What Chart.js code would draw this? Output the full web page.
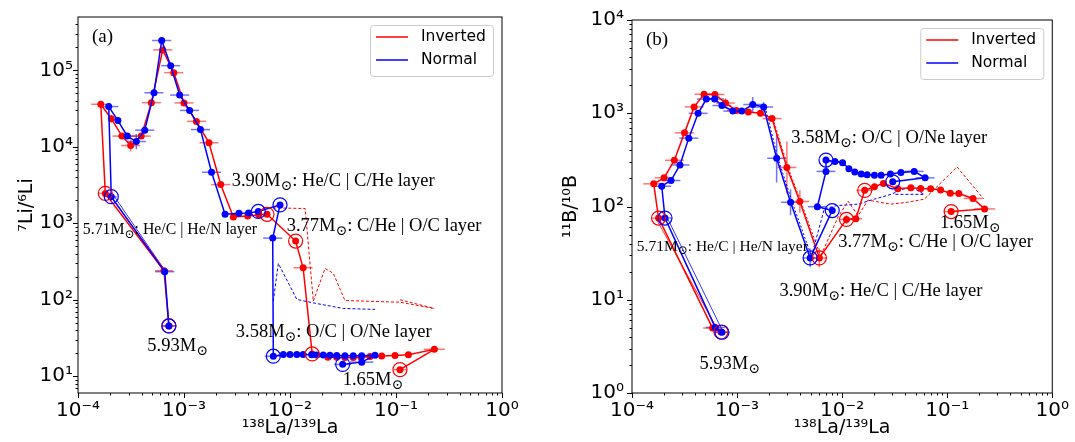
<!DOCTYPE html>
<html>
<head>
<meta charset="utf-8">
<script src="https://cdn.jsdelivr.net/npm/chart.js@4.4.1/dist/chart.umd.min.js"></script>
<style>
  html, body { margin: 0; padding: 0; background: #fff; }
  #wrap { position: relative; width: 1075px; height: 442px; }
  canvas { position: absolute; top: 0; }
  #panelA { left: 0; }
  #panelB { left: 537px; }
</style>
</head>
<body>
<div id="wrap">
  <canvas id="panelA" width="537" height="442"></canvas>
  <canvas id="panelB" width="538" height="442"></canvas>
</div>
<script>
// ---------- panel (a): 7Li/6Li vs 138La/139La ----------
const liInvX = [7.2e-4, 6.48e-4, 1.81e-4, 1.64e-4, 2.06e-4, 2.60e-4, 3.14e-4, 3.95e-4, 4.92e-4, 6.30e-4, 8.0e-4, 1.0e-3, 1.31e-3, 1.72e-3, 2.22e-3, 2.92e-3, 3.99e-3, 5.07e-3, 6.07e-3, 1.13e-2, 1.33e-2, 1.62e-2, 2.28e-2, 2.76e-2, 3.30e-2, 3.95e-2, 4.68e-2, 5.69e-2, 7.33e-2, 9.79e-2, 0.131, 0.230, 0.109]
const liInvY = [45.5, 240, 2460, 36000, 23300, 13800, 10400, 13800, 37800, 185000, 93300, 37500, 21500, 11300, 3210, 1210, 1250, 1290, 1310, 586, 262, 19.6, 17.7, 17.7, 17.6, 17.6, 17.7, 18.1, 18.4, 18.7, 19.1, 22.5, 12.2]
const liInvXErr = [0.07, 0.085, 0.06, 0.09, 0, 0.09, 0.09, 0.09, 0.09, 0.09, 0.09, 0.09, 0.09, 0.09, 0.09, 0, 0, 0, 0, 0, 0.09, 0, 0, 0, 0, 0, 0, 0, 0, 0, 0, 0.1, 0.06]
const liInvYErr = [0, 0, 0, 0, 0.05, 0, 0.08, 0, 0, 0, 0, 0, 0, 0, 0, 0, 0, 0, 0, 0, 0, 0, 0, 0, 0, 0, 0, 0, 0, 0, 0, 0, 0]
const liInvCircled = [0, 2, 18, 19, 21, 32]

const liNorX = [7.2e-4, 6.58e-4, 2.06e-4, 1.95e-4, 2.38e-4, 2.92e-4, 3.55e-4, 4.26e-4, 5.21e-4, 6.16e-4, 7.49e-4, 9.10e-4, 1.13e-3, 1.43e-3, 1.82e-3, 2.44e-3, 3.30e-3, 4.06e-3, 5.02e-3, 8.05e-3, 6.87e-3, 6.96e-3, 8.65e-3, 1.0e-2, 1.16e-2, 1.33e-2, 1.60e-2, 1.79e-2, 2.06e-2, 2.38e-2, 2.76e-2, 3.30e-2, 3.95e-2, 4.75e-2, 6.34e-2, 4.75e-2, 3.14e-2]
const liNorY = [45.5, 233, 2230, 33600, 22000, 13800, 11700, 16500, 50900, 246000, 115000, 47500, 29900, 16800, 4650, 1310, 1350, 1365, 1430, 1740, 640, 18.3, 19.2, 19.3, 19.3, 19.2, 19.1, 19.0, 18.9, 18.8, 18.7, 18.6, 18.6, 18.6, 18.8, 15.3, 14.3]
const liNorXErr = [0.06, 0.09, 0.05, 0.09, 0, 0.09, 0.09, 0.09, 0.09, 0.09, 0.09, 0.09, 0.09, 0.09, 0.09, 0, 0, 0, 0, 0, 0.09, 0.08, 0, 0, 0, 0, 0, 0, 0, 0, 0, 0, 0, 0, 0, 0.11, 0.08]
const liNorYErr = [0, 0, 0, 0, 0, 0, 0.1, 0, 0, 0.03, 0, 0, 0, 0, 0, 0, 0, 0, 0, 0, 0, 0, 0, 0, 0, 0, 0, 0, 0, 0, 0, 0, 0, 0, 0, 0, 0]
const liNorCircled = [0, 2, 18, 19, 21, 36]

const liInvDashX = [5.6e-3, 1.39e-2, 1.66e-2, 2.14e-2, 2.56e-2, 3.30e-2, 0.109, 0.230]
const liInvDashY = [1600, 1560, 95.7, 257, 222, 97.8, 92.9, 76.9]
const liInvDash2X = [0.109, 0.230]
const liInvDash2Y = [100, 77]
const liNorDashX = [6.96e-3, 7.76e-3, 1.16e-2, 1.66e-2, 3.18e-2, 6.34e-2]
const liNorDashY = [95.7, 298, 101, 91, 77, 74.8]
const liInvThinX = [1.92e-4, 6.6e-4]
const liInvThinY = [2500, 245]
const liNorThinX = [2.2e-4, 6.75e-4]
const liNorThinY = [2250, 230]

// ---------- panel (b): 11B/10B vs 138La/139La ----------
const bInvX = [7.02e-4, 5.85e-4, 1.79e-4, 1.61e-4, 2.02e-4, 2.53e-4, 3.16e-4, 3.90e-4, 4.85e-4, 6.16e-4, 7.76e-4, 9.85e-4, 1.28e-3, 1.67e-3, 2.15e-3, 2.98e-3, 3.96e-3, 6.07e-3, 1.10e-2, 1.35e-2, 1.64e-2, 2.03e-2, 2.47e-2, 3.38e-2, 4.51e-2, 5.60e-2, 6.95e-2, 8.65e-2, 0.107, 0.129, 0.176, 0.227, 0.109]
const bInvY = [4.51, 4.97, 75.2, 175, 203, 313, 616, 1170, 1600, 1590, 1290, 1070, 1030, 999, 877, 262, 113, 28.1, 72.7, 73.9, 149, 163, 177, 155, 159, 156, 155, 150, 139, 138, 122, 94.2, 88.2]
const bInvXErr = [0.07, 0.09, 0.06, 0.1, 0.09, 0.09, 0.09, 0.09, 0.09, 0.09, 0.09, 0.09, 0, 0, 0.09, 0.09, 0.09, 0.07, 0.07, 0.06, 0.08, 0, 0, 0, 0, 0, 0, 0, 0, 0, 0.09, 0.1, 0.07]
const bInvYErr = [0, 0, 0, 0, 0, 0, 0, 0, 0, 0, 0.05, 0, 0, 0, 0, 0.28, 0.12, 0.1, 0.05, 0, 0, 0, 0, 0, 0, 0, 0, 0, 0, 0, 0, 0, 0]
const bInvCircled = [0, 2, 17, 18, 20, 32]

const bNorX = [7.18e-4, 6.20e-4, 2.06e-4, 1.92e-4, 2.35e-4, 2.86e-4, 3.47e-4, 4.26e-4, 5.10e-4, 6.11e-4, 7.18e-4, 9.11e-4, 1.11e-3, 1.41e-3, 1.79e-3, 2.38e-3, 3.23e-3, 4.96e-3, 8.05e-3, 5.81e-3, 7.02e-3, 7.02e-3, 8.53e-3, 1.01e-2, 1.16e-2, 1.32e-2, 1.52e-2, 1.73e-2, 2.03e-2, 2.35e-2, 2.88e-2, 3.63e-2, 4.85e-2, 6.16e-2, 3.03e-2]
const bNorY = [4.48, 5.05, 75.2, 165, 190, 279, 541, 998, 1420, 1420, 1210, 1056, 1056, 1240, 1170, 329, 111, 28.1, 90.4, 99.5, 238, 315, 303, 295, 254, 234, 223, 219, 216, 216, 223, 232, 238, 203, 184]
const bNorXErr = [0.07, 0.09, 0.06, 0.09, 0.09, 0.09, 0.09, 0.09, 0.09, 0.09, 0.09, 0.09, 0.09, 0.09, 0.09, 0.09, 0.09, 0.07, 0, 0.09, 0.09, 0, 0.09, 0, 0, 0, 0, 0, 0, 0, 0, 0, 0.09, 0.09, 0]
const bNorYErr = [0, 0, 0, 0, 0, 0, 0, 0, 0, 0, 0, 0, 0, 0.08, 0.05, 0.26, 0.14, 0.1, 0, 0, 0, 0, 0, 0, 0, 0, 0, 0, 0, 0, 0, 0, 0, 0, 0]
const bNorCircled = [0, 2, 17, 18, 21, 34]

const bInvDashX = [6.3e-3, 9.17e-3, 1.14e-2, 1.42e-2, 1.76e-2, 2.90e-2, 4.19e-2, 6.07e-2, 0.124, 0.223]
const bInvDashY = [30, 77.6, 114, 79.5, 117, 106, 111, 120, 266, 120]
const bNorDashX = [5.1e-3, 6.76e-3, 8.77e-3, 1.42e-2, 2.03e-2, 2.92e-2, 3.76e-2, 4.68e-2, 6.03e-2, 3.14e-2]
const bNorDashY = [29, 94.2, 102, 106, 120, 135, 153, 160, 135, 135]
const bInvThinX = [1.72e-4, 6.8e-4, 2.2e-3, 3.05e-3, 4.05e-3, 6.3e-3]
const bInvThinY = [72, 4.4, 877, 262, 113, 28.5]
const bNorThinX = [2.15e-4, 7.3e-4, 1.85e-3, 2.45e-3, 3.35e-3, 5.15e-3]
const bNorThinY = [77, 4.6, 1170, 329, 111, 28.5]

// mass-coordinate notes (anchored at left/middle of the text)
const liNotes = [
  { mass: "3.90", tail: ": He/C | C/He layer", x: 2.82e-3, y: 3590, size: 18.5 },
  { mass: "3.77", tail: ": C/He | O/C layer", x: 9.31e-3, y: 914, size: 18.5 },
  { mass: "5.71", tail: ": He/C | He/N layer", x: 1.11e-4, y: 813, size: 15.8 },
  { mass: "3.58", tail: ": O/C | O/Ne layer", x: 3.08e-3, y: 38.1, size: 18.5 },
  { mass: "5.93", tail: "", x: 4.51e-4, y: 24.6, size: 18.5 },
  { mass: "1.65", tail: "", x: 3.14e-2, y: 8.88, size: 18.5 }
]
const bNotes = [
  { mass: "3.58", tail: ": O/C | O/Ne layer", x: 3.28e-3, y: 541, size: 18.5 },
  { mass: "3.77", tail: ": C/He | O/C layer", x: 9.16e-3, y: 41.1, size: 18.5 },
  { mass: "5.71", tail: ": He/C | He/N layer", x: 1.11e-4, y: 37.3, size: 15.5 },
  { mass: "3.90", tail: ": He/C | C/He layer", x: 2.53e-3, y: 12.3, size: 18.5 },
  { mass: "5.93", tail: "", x: 4.38e-4, y: 2.05, size: 18.5 },
  { mass: "1.65", tail: "", x: 8.53e-2, y: 65.5, size: 18.5 }
]

const RED = "#ff0000"
const BLUE = "#0000ff"
const SUP = { "-": "\u207b", "0": "\u2070", "1": "\u00b9", "2": "\u00b2", "3": "\u00b3", "4": "\u2074", "5": "\u2075", "6": "\u2076", "7": "\u2077", "8": "\u2078", "9": "\u2079" }

const pts = (xs, ys) => xs.map((x, i) => ({ x, y: ys[i] }))

function decadeLabel(v) {
  const e = Math.log10(v)
  if (Math.abs(e - Math.round(e)) > 1e-6) return ""
  return "10" + String(Math.round(e)).split("").map(c => SUP[c]).join("")
}

function track(label, color, xs, ys, xErr, yErr, order) {
  return {
    label, data: pts(xs, ys), showLine: true, order,
    borderColor: color, backgroundColor: color, borderWidth: 1.5,
    pointRadius: 3.5, pointHoverRadius: 3.5, pointBorderWidth: 0,
    xErr, yErr, errColor: color === RED ? "rgba(255,0,0,0.55)" : "rgba(0,0,255,0.55)",
    inLegend: true
  }
}

function circles(color, xs, ys, idx) {
  return {
    data: idx.map(i => ({ x: xs[i], y: ys[i] })), showLine: false, order: 0,
    pointRadius: 7, pointHoverRadius: 7, pointBorderColor: color,
    pointBackgroundColor: "rgba(0,0,0,0)", pointBorderWidth: 1.2
  }
}

function dashed(color, xs, ys, pattern) {
  return {
    data: pts(xs, ys), showLine: true, order: 3, borderColor: color,
    borderWidth: 1, borderDash: pattern, pointRadius: 0
  }
}

function thin(color, xs, ys) {
  return {
    data: pts(xs, ys), showLine: true, order: 3, borderColor: color,
    borderWidth: 0.8, pointRadius: 0
  }
}

const errorBars = {
  id: "errorBars",
  beforeDatasetsDraw(chart) {
    const { ctx, scales: { x, y } } = chart
    chart.data.datasets.forEach(ds => {
      if (!ds.xErr) return
      ctx.save()
      ctx.strokeStyle = ds.errColor
      ctx.lineWidth = 1.5
      ds.data.forEach((p, i) => {
        const px = x.getPixelForValue(p.x)
        const py = y.getPixelForValue(p.y)
        const ex = ds.xErr[i], ey = ds.yErr[i]
        ctx.beginPath()
        if (ex) {
          ctx.moveTo(x.getPixelForValue(p.x / Math.pow(10, ex)), py)
          ctx.lineTo(x.getPixelForValue(p.x * Math.pow(10, ex)), py)
        }
        if (ey) {
          ctx.moveTo(px, y.getPixelForValue(p.y / Math.pow(10, ey)))
          ctx.lineTo(px, y.getPixelForValue(p.y * Math.pow(10, ey)))
        }
        ctx.stroke()
      })
      ctx.restore()
    })
  }
}

function logTicks(scale) {
  const out = []
  const lo = Math.floor(Math.log10(scale.min)), hi = Math.ceil(Math.log10(scale.max))
  for (let n = lo; n <= hi; n++) {
    for (let d = 1; d <= 9; d++) {
      const v = d * Math.pow(10, n)
      if (v >= scale.min * 0.9999 && v <= scale.max * 1.0001) out.push({ v, major: d === 1 })
    }
  }
  return out
}

const frameTicks = {
  id: "frameTicks",
  afterDraw(chart) {
    const { ctx, chartArea: a, scales: { x, y } } = chart
    ctx.save()
    ctx.strokeStyle = "#000"
    ctx.lineWidth = 1
    ctx.strokeRect(a.left, a.top, a.right - a.left, a.bottom - a.top)
    ctx.beginPath()
    logTicks(x).forEach(t => {
      const px = Math.round(x.getPixelForValue(t.v)) + 0.5
      ctx.moveTo(px, a.bottom)
      ctx.lineTo(px, a.bottom + (t.major ? 5 : 2.5))
    })
    logTicks(y).forEach(t => {
      const py = Math.round(y.getPixelForValue(t.v)) + 0.5
      ctx.moveTo(a.left, py)
      ctx.lineTo(a.left - (t.major ? 5 : 2.5), py)
    })
    ctx.stroke()
    ctx.restore()
  }
}

const massNotes = {
  id: "massNotes",
  afterDatasetsDraw(chart, args, opts) {
    const { ctx, chartArea: a, scales: { x, y } } = chart
    ctx.save()
    ctx.fillStyle = "#000"
    ctx.textBaseline = "middle"
    ctx.font = '19px "Liberation Serif"'
    ctx.fillText(opts.panel, a.left + 14, a.top + 20)
    opts.items.forEach(n => {
      let px = x.getPixelForValue(n.x)
      const py = y.getPixelForValue(n.y)
      ctx.font = n.size + 'px "Liberation Serif"'
      const head = n.mass + "M"
      ctx.fillText(head, px, py)
      px += ctx.measureText(head).width
      ctx.font = Math.round(n.size * 0.75) + 'px "DejaVu Serif"'
      ctx.fillText("\u2299", px, py + n.size * 0.28)
      px += ctx.measureText("\u2299").width
      ctx.font = n.size + 'px "Liberation Serif"'
      ctx.fillText(n.tail, px, py)
    })
    ctx.restore()
  }
}

const boxLegend = {
  id: "boxLegend",
  afterDraw(chart) {
    const { ctx, chartArea: a } = chart
    const items = chart.data.datasets.filter(d => d.inLegend)
      .sort((p, q) => (p.label === "Inverted" ? -1 : 1))
    const w = 123, h = 51
    const left = a.right - 9 - w, top = a.top + 8
    ctx.save()
    ctx.beginPath()
    ctx.roundRect(left + 0.5, top + 0.5, w, h, 3)
    ctx.fillStyle = "rgba(255,255,255,0.8)"
    ctx.fill()
    ctx.strokeStyle = "#cccccc"
    ctx.lineWidth = 1
    ctx.stroke()
    ctx.font = '15.5px "DejaVu Sans"'
    ctx.textBaseline = "middle"
    items.forEach((d, i) => {
      const cy = top + 12 + i * 23
      ctx.strokeStyle = d.borderColor
      ctx.lineWidth = 1.5
      ctx.beginPath()
      ctx.moveTo(left + 6, cy)
      ctx.lineTo(left + 38, cy)
      ctx.stroke()
      ctx.fillStyle = "#000"
      ctx.fillText(d.label, left + 51, cy)
    })
    ctx.restore()
  }
}

function makePanel(id, cfg) {
  return new Chart(document.getElementById(id), {
    type: "scatter",
    data: { datasets: cfg.datasets },
    options: {
      responsive: false,
      animation: false,
      layout: { padding: cfg.padding },
      plugins: {
        legend: { display: false },
        tooltip: { enabled: false },
        massNotes: { items: cfg.notes, panel: cfg.panel }
      },
      scales: {
        x: {
          type: "logarithmic", min: 1e-4, max: 1,
          border: { display: false },
          grid: { display: false, drawTicks: false },
          ticks: {
            autoSkip: false, maxRotation: 0, padding: 6, color: "#000",
            font: { family: "DejaVu Sans", size: 20 },
            callback: v => decadeLabel(v)
          },
          title: {
            display: true, text: "\u00b9\u00b3\u2078La/\u00b9\u00b3\u2079La", color: "#000",
            font: { family: "DejaVu Sans", size: 19 }, padding: { top: 0, bottom: 3 }
          },
          afterFit: s => { s.height = 49 }
        },
        y: {
          type: "logarithmic", min: cfg.yMin, max: cfg.yMax,
          border: { display: false },
          grid: { display: false, drawTicks: false },
          ticks: {
            autoSkip: false, padding: cfg.yPad, color: "#000",
            font: { family: "DejaVu Sans", size: 20 },
            callback: v => decadeLabel(v)
          },
          title: {
            display: true, text: cfg.yTitle, color: "#000",
            font: { family: "DejaVu Sans", size: 19 }, padding: { top: cfg.yTitlePad, bottom: 0 }
          },
          afterFit: s => { s.width = cfg.yWidth }
        }
      }
    },
    plugins: [errorBars, frameTicks, massNotes, boxLegend]
  })
}

makePanel("panelA", {
  panel: "(a)",
  notes: liNotes,
  yMin: 6.04, yMax: 4.98e5,
  yTitle: "\u2077Li/\u2076Li", yTitlePad: 16, yWidth: 78, yPad: 5,
  padding: { left: 0, right: 35, top: 12, bottom: 0 },
  datasets: [
    track("Normal", BLUE, liNorX, liNorY, liNorXErr, liNorYErr, 1),
    track("Inverted", RED, liInvX, liInvY, liInvXErr, liInvYErr, 2),
    circles(BLUE, liNorX, liNorY, liNorCircled),
    circles(RED, liInvX, liInvY, liInvCircled),
    dashed(RED, liInvDashX, liInvDashY, [3, 2]),
    dashed(RED, liInvDash2X, liInvDash2Y, [3, 2]),
    dashed(BLUE, liNorDashX, liNorDashY, [3, 2]),
    thin(RED, liInvThinX, liInvThinY),
    thin(BLUE, liNorThinX, liNorThinY)
  ]
})

makePanel("panelB", {
  panel: "(b)",
  notes: bNotes,
  yMin: 1, yMax: 1e4,
  yTitle: "\u00b9\u00b9B/\u00b9\u2070B", yTitlePad: 23, yWidth: 95, yPad: 8,
  padding: { left: 0, right: 20, top: 12, bottom: 0 },
  datasets: [
    track("Normal", BLUE, bNorX, bNorY, bNorXErr, bNorYErr, 1),
    track("Inverted", RED, bInvX, bInvY, bInvXErr, bInvYErr, 2),
    circles(BLUE, bNorX, bNorY, bNorCircled),
    circles(RED, bInvX, bInvY, bInvCircled),
    dashed(RED, bInvDashX, bInvDashY, [3, 2]),
    dashed(BLUE, bNorDashX, bNorDashY, [3, 2]),
    thin(RED, bInvThinX.slice(0, 2), bInvThinY.slice(0, 2)),
    thin(BLUE, bNorThinX.slice(0, 2), bNorThinY.slice(0, 2)),
    dashed(RED, bInvThinX.slice(2), bInvThinY.slice(2), [2, 2]),
    dashed(BLUE, bNorThinX.slice(2), bNorThinY.slice(2), [2, 2])
  ]
})
</script>
</body>
</html>
